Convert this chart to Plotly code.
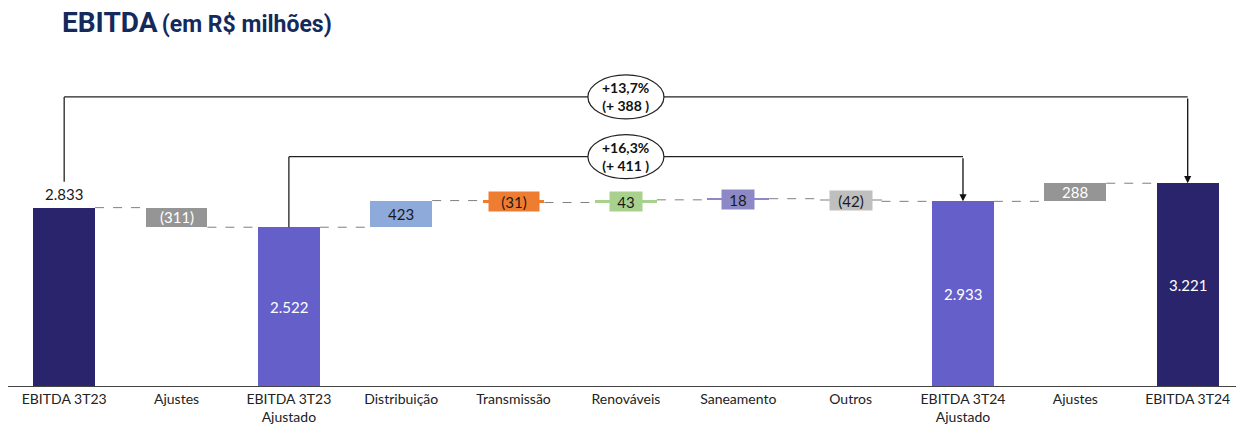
import plotly.graph_objects as go

# --- data -------------------------------------------------------------------
categories = ["EBITDA 3T23", "Ajustes", "EBITDA 3T23<br>Ajustado", "Distribuição",
              "Transmissão", "Renováveis", "Saneamento", "Outros",
              "EBITDA 3T24<br>Ajustado", "Ajustes", "EBITDA 3T24"]
values = [2833, -311, 2522, 423, -31, 43, 18, -42, 2933, 288, 3221]
is_total = [True, False, True, False, False, False, False, False, True, False, True]
value_labels = ["2.833", "(311)", "2.522", "423", "(31)", "43", "18", "(42)",
                "2.933", "288", "3.221"]
growth_labels = ["+13,7%<br>(+ 388 )", "+16,3%<br>(+ 411 )"]

# --- styling ------------------------------------------------------------------
NAVY = "#29246c"
PURPLE = "#645fc9"
colors = [NAVY, "#959595", PURPLE, "#8eaadb", "#ee7d31", "#a9d18e", "#8c89c6",
          "#bfbfbf", PURPLE, "#959595", NAVY]
label_colors = ["#1a1a1a", "white", "white", "#1a1a1a", "#1a1a1a", "#1a1a1a",
                "#1a1a1a", "#1a1a1a", "white", "white", "white"]
label_box_w = [None, None, None, None, 48, 30, 30, 40, None, None, None]
FONT = "Lato"
BAR_W = 0.55
UNITS_PER_PX = 15.79  # vertical scale: R$ milhões per pixel
PLOT_H = 338

# --- waterfall geometry ----------------------------------------------------
bases, heights, ends = [], [], []
level = 0
for v, tot in zip(values, is_total):
    if tot:
        bases.append(0)
        level = v
    else:
        bases.append(level)
        level = level + v
    heights.append(v)
    ends.append(level)

x = list(range(len(categories)))
fig = go.Figure()
fig.add_trace(go.Bar(
    x=x, y=heights, base=bases, width=BAR_W,
    marker=dict(color=colors, line=dict(width=0)),
    hoverinfo="skip", showlegend=False,
))

# dashed connectors between consecutive bars
for i in range(len(x) - 1):
    fig.add_shape(type="line", x0=i + BAR_W / 2, x1=i + 1 - BAR_W / 2,
                  y0=ends[i], y1=ends[i],
                  line=dict(color="#7f7f7f", width=1, dash="dash"))

# value labels
for i, (v, tot) in enumerate(zip(values, is_total)):
    font = dict(family=FONT, size=15, color=label_colors[i])
    if i == 0:
        fig.add_annotation(x=i, y=v, text=value_labels[i], showarrow=False,
                           yanchor="bottom", yshift=3, font=font)
    elif tot:
        fig.add_annotation(x=i, y=v / 2, text=value_labels[i], showarrow=False,
                           font=font)
    elif label_box_w[i] is None:
        fig.add_annotation(x=i, y=bases[i] + v / 2, text=value_labels[i],
                           showarrow=False, font=font)
    else:
        # thin bar: label sits on a small box in the bar's colour
        fig.add_annotation(x=i, y=bases[i] + v / 2, text=value_labels[i],
                           showarrow=False, bgcolor=colors[i],
                           width=label_box_w[i], height=17, borderpad=1,
                           font=font)

# growth brackets: start bar -> end bar, with an ellipse badge in the middle
span_max = max(values)
brackets = [
    # (from index, to index, start y, bracket level, label)
    (0, 10, values[0] + 410, span_max + 1370, growth_labels[0]),
    (2, 8, values[2], values[8] + 710, growth_labels[1]),
]
for i0, i1, y_start, lvl, txt in brackets:
    fig.add_shape(type="line", x0=i0, x1=i0, y0=y_start, y1=lvl,
                  line=dict(color="#222222", width=1.3))
    fig.add_shape(type="line", x0=i0, x1=i1, y0=lvl, y1=lvl,
                  line=dict(color="#222222", width=1.3))
    fig.add_annotation(x=i1, y=values[i1], ax=i1, ay=lvl, axref="x", ayref="y",
                       xref="x", yref="y", text="", showarrow=True,
                       arrowhead=2, arrowsize=1.1, arrowwidth=1.3,
                       arrowcolor="#111111", standoff=0)
    fig.add_shape(type="circle", xref="x", yref="y", xsizemode="pixel",
                  ysizemode="pixel", xanchor=5, yanchor=lvl,
                  x0=-38, x1=38, y0=-22, y1=22,
                  fillcolor="white", line=dict(color="#222222", width=1.2))
    fig.add_annotation(x=5, y=lvl, text="<b>" + txt + "</b>", showarrow=False,
                       font=dict(family=FONT, size=14, color="#111111"))

fig.update_layout(
    width=1236, height=425,
    margin=dict(l=8, r=0, t=50, b=37),
    paper_bgcolor="white", plot_bgcolor="white",
    bargap=0,
    title=dict(
        text="<b><span style='font-size:28px'>EBITDA</span> "
             "<span style='font-size:23px'>(em R$ milhões)</span></b>",
        x=62 / 1236, xanchor="left", xref="container",
        y=1 - 26 / 425, yanchor="middle", yref="container",
        font=dict(family="Roboto", color="#14295c"),
    ),
    xaxis=dict(
        tickmode="array", tickvals=x, ticktext=categories,
        range=[-0.5, 10.43], showgrid=False, zeroline=False,
        showline=True, linecolor="#444444", linewidth=1.2,
        ticks="", tickfont=dict(family=FONT, size=14, color="#222222"),
        fixedrange=True,
    ),
    yaxis=dict(
        range=[0, PLOT_H * UNITS_PER_PX], visible=False, fixedrange=True,
    ),
)

fig.write_html("out.html")
